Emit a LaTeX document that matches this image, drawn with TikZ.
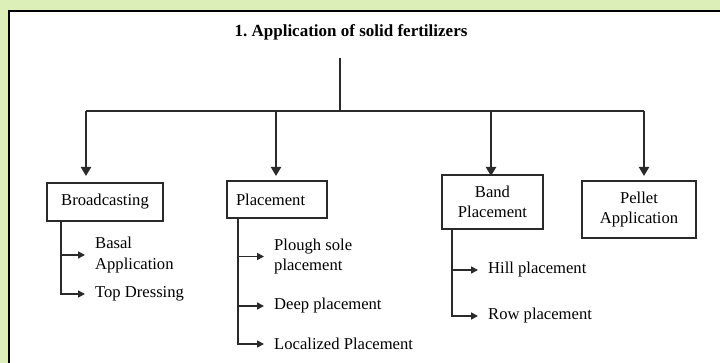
\documentclass[tikz,border=0pt]{standalone}
\usepackage{fontspec}
\setmainfont{Liberation Serif}
\usepackage{tikz}
\usetikzlibrary{arrows.meta,positioning,calc}
\definecolor{paleleaf}{HTML}{DCEFB9}
\definecolor{inkgray}{HTML}{2A2A2A}

\begin{document}
\begin{tikzpicture}[
      x=1pt, y=-1pt,
      font=\fontsize{16.6}{20.5}\selectfont,
      kind/.style={draw=inkgray, line width=1.5pt, align=center, inner sep=4pt},
      item/.style={anchor=west, align=left, inner xsep=0pt, inner ysep=1pt},
      stem/.style={draw=inkgray, line width=1.6pt},
      drop/.style={stem, line width=2pt, -{Triangle[length=9pt,width=10pt]}},
      twig/.style={stem, -{Triangle[length=7pt,width=7pt]}, shorten >=10pt},
    ]
    % --- frame ----------------------------------------------------------------------
    \useasboundingbox (0,0) rectangle (720,363);
    \fill[paleleaf] (0,0) rectangle (720,363);
    \fill[white] (9,11) rectangle (720,363);
    \draw[black, line width=1.8pt] (9,363) -- (9,11) -- (720,11);

    % --- title and bus --------------------------------------------------------------
    \node[font=\fontsize{17}{20}\selectfont\bfseries] (title) at (351,32)
      {1.\ Application of solid fertilizers};
    \coordinate (top) at (340,58);
    \coordinate (hub) at (340,111);
    \coordinate (a1) at (86,111);
    \coordinate (a2) at (276,111);
    \coordinate (a3) at (491,111);
    \coordinate (a4) at (644,111);
    \coordinate (tips) at (0,176);
    \draw[stem] (top) -- (hub);
    \draw[stem] (a1) -- (a4);

    % --- kinds of application -------------------------------------------------------
    \node[kind, minimum width=116pt, minimum height=38pt] (bcast) at (105,202) {Broadcasting};
    \node[kind, minimum height=37pt, text width=82pt, inner xsep=9pt, align=left] (place) at (277,199.5)
      {Placement};
    \node[kind, minimum width=101pt, minimum height=54pt] (band) at (492.5,202) {Band\\Placement};
    \node[kind, minimum width=114pt, minimum height=57pt] (pellet) at (639,209.5) {Pellet\\Application};

    \draw[drop] (a1) -- (a1 |- tips);
    \draw[drop] (a2) -- (a2 |- tips);
    \draw[drop] (a3) -- (a3 |- tips);
    \draw[drop] (a4) -- (a4 |- tips);

    % --- broadcasting ---------------------------------------------------------------
    \node[item] (basal) at (95,255) {Basal\\Application};
    \node[item] (topdress) at (95,294) {Top Dressing};
    \coordinate (s1) at ([xshift=15pt]bcast.south west);
    \draw[twig] (s1) |- (topdress.west);
    \draw[twig] (s1 |- basal.west) -- (basal.west);

    % --- placement ------------------------------------------------------------------
    \node[item] (plough) at (274,256.5) {Plough sole\\placement};
    \node[item] (deep) at (274,306) {Deep placement};
    \node[item] (local) at (274,344) {Localized Placement};
    \coordinate (s2) at ([xshift=12pt]place.south west);
    \draw[twig] (s2) |- (local.west);
    \draw[twig] (s2 |- plough.west) -- (plough.west);
    \draw[twig] (s2 |- deep.west) -- (deep.west);

    % --- band placement -------------------------------------------------------------
    \node[item] (hill) at (488,270) {Hill placement};
    \node[item] (row) at (488,316) {Row placement};
    \coordinate (s3) at ([xshift=11pt]band.south west);
    \draw[twig] (s3) |- (row.west);
    \draw[twig] (s3 |- hill.west) -- (hill.west);
  \end{tikzpicture}
\end{document}
